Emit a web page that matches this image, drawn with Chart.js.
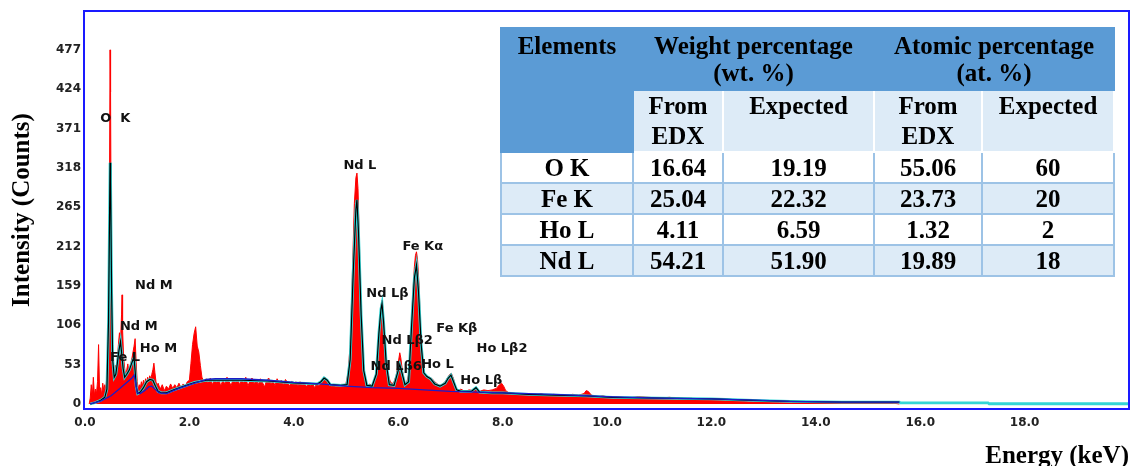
<!DOCTYPE html>
<html>
<head>
<meta charset="utf-8">
<script src="https://cdn.jsdelivr.net/npm/chart.js@4.4.1/dist/chart.umd.min.js"></script>
<style>
  html, body { margin: 0; padding: 0; background: #fff; }
  #wrap { position: relative; width: 1136px; height: 466px; overflow: hidden; }
  #edx { position: absolute; left: 0; top: 0; }
  #composition {
    position: absolute; left: 500px; top: 27px; width: 613px;
    border-collapse: collapse; table-layout: fixed;
    font: bold 25px "Liberation Serif", "Times New Roman", serif; color: #000;
  }
  #composition td { padding: 0; text-align: center; border: 2px solid #9dc3e6; line-height: 28px; }
  #composition tr.head1 td { background: #5b9bd5; border-color: #5b9bd5; height: 60px; line-height: 27px; }
  #composition td.elem { vertical-align: top; padding-top: 3px; }
  #composition tr.head2 td { background: #ddebf7; border-color: #fff; height: 58px; line-height: 30px; }
  #composition tr.head2 td.top { vertical-align: top; }
  #composition tr.head2 { border-bottom: 2px solid #9dc3e6; }
  #composition tr.row td { height: 29px; background: #fff; }
  #composition tr.row.alt td { background: #ddebf7; }
</style>
</head>
<body>
<div id="wrap">
  <canvas id="edx" width="1136" height="466"></canvas>
  <table id="composition">
    <colgroup><col style="width:132px"><col style="width:90px"><col style="width:151px"><col style="width:108px"><col style="width:132px"></colgroup>
    <tr class="head1">
      <td class="elem" rowspan="2" style="background:#5b9bd5;border-color:#5b9bd5">Elements</td>
      <td colspan="2">Weight percentage<br>(wt. %)</td>
      <td colspan="2">Atomic percentage<br>(at. %)</td>
    </tr>
    <tr class="head2">
      <td>From<br>EDX</td><td class="top">Expected</td><td>From<br>EDX</td><td class="top">Expected</td>
    </tr>
    <tbody id="compRows"></tbody>
  </table>
</div>
<script>
// axis ticks
const xTickValues = [0, 2, 4, 6, 8, 10, 12, 14, 16, 18];
const yTickValues = [0, 53, 106, 159, 212, 265, 318, 371, 424, 477];

// measured spectrum (keV, counts)
const spectrumEnergy = [
  0.08, 0.10, 0.12, 0.14, 0.16, 0.18, 0.20, 0.22, 0.24, 0.26,
  0.28, 0.30, 0.32, 0.34, 0.36, 0.38, 0.40, 0.42, 0.44, 0.46,
  0.47, 0.48, 0.49, 0.50, 0.52, 0.54, 0.56, 0.58, 0.60, 0.62,
  0.64, 0.66, 0.68, 0.70, 0.71, 0.72, 0.74, 0.76, 0.78, 0.80,
  0.82, 0.84, 0.86, 0.88, 0.90, 0.92, 0.94, 0.96, 0.98, 1.00,
  1.02, 1.04, 1.06, 1.08, 1.10, 1.12, 1.14, 1.16, 1.18, 1.20,
  1.22, 1.24, 1.26, 1.28, 1.30, 1.32, 1.34, 1.36, 1.38, 1.40,
  1.44, 1.48, 1.52, 1.56, 1.60, 1.64, 1.68, 1.72, 1.76, 1.80,
  1.84, 1.88, 1.92, 1.96, 2.00, 2.03, 2.06, 2.09, 2.12, 2.15,
  2.18, 2.21, 2.24, 2.28, 2.32, 2.36, 2.40, 2.44, 2.48, 2.52,
  2.56, 2.60, 2.64, 2.68, 2.72, 2.76, 2.80, 2.84, 2.88, 2.92,
  2.96, 3.00, 3.04, 3.08, 3.12, 3.16, 3.20, 3.24, 3.28, 3.32,
  3.36, 3.40, 3.44, 3.48, 3.52, 3.56, 3.60, 3.64, 3.68, 3.72,
  3.76, 3.80, 3.84, 3.88, 3.92, 3.96, 4.00, 4.04, 4.08, 4.12,
  4.16, 4.20, 4.24, 4.28, 4.32, 4.36, 4.40, 4.44, 4.48, 4.52,
  4.56, 4.60, 4.64, 4.68, 4.72, 4.76, 4.80, 4.84, 4.88, 4.92,
  4.96, 5.00, 5.04, 5.08, 5.12, 5.16, 5.19, 5.21, 5.23, 5.26,
  5.29, 5.32, 5.35, 5.38, 5.42, 5.46, 5.50, 5.54, 5.58, 5.62,
  5.65, 5.67, 5.69, 5.71, 5.74, 5.77, 5.80, 5.84, 5.88, 5.92,
  5.96, 6.00, 6.03, 6.05, 6.08, 6.12, 6.16, 6.20, 6.24, 6.28,
  6.31, 6.33, 6.35, 6.37, 6.40, 6.43, 6.47, 6.51, 6.55, 6.60,
  6.65, 6.70, 6.75, 6.80, 6.85, 6.90, 6.95, 6.99, 7.02, 7.06,
  7.10, 7.15, 7.20, 7.28, 7.36, 7.44, 7.50, 7.56, 7.64, 7.72,
  7.80, 7.88, 7.94, 7.98, 8.02, 8.06, 8.12, 8.20, 8.30, 8.40,
  8.50, 8.62, 8.74, 8.86, 8.98, 9.10, 9.22, 9.34, 9.46, 9.56,
  9.60, 9.64, 9.70, 9.80, 9.92, 10.04, 10.2, 10.4, 10.6, 10.8,
  11.0, 11.2, 11.4, 11.6, 11.8, 12.0, 12.2, 12.4, 12.6, 12.7,
  13.0, 13.3, 13.6, 13.9, 14.2, 14.5, 14.8, 15.1, 15.4, 15.6
];
const spectrumCounts = [
  0, 8, 26, 10, 36, 12, 20, 14, 30, 80,
  16, 22, 12, 28, 18, 26, 20, 40, 70, 140,
  300, 477, 420, 240, 90, 48, 38, 52, 44, 62,
  80, 96, 84, 120, 147, 100, 62, 48, 38, 46,
  54, 44, 50, 56, 62, 70, 78, 88, 56, 30,
  20, 26, 22, 30, 24, 32, 26, 34, 28, 36,
  30, 38, 34, 40, 46, 55, 42, 30, 24, 28,
  20, 26, 18, 24, 20, 27, 21, 26, 22, 28,
  22, 27, 24, 30, 32, 55, 80, 95, 104, 78,
  70, 52, 36, 30, 34, 28, 35, 26, 33, 29,
  35, 24, 32, 27, 36, 30, 25, 34, 29, 35,
  26, 33, 28, 36, 24, 31, 35, 27, 33, 26,
  34, 29, 23, 32, 35, 27, 31, 25, 34, 28,
  32, 26, 33, 29, 24, 31, 27, 30, 25, 30,
  26, 29, 23, 28, 25, 27, 22, 28, 25, 27,
  31, 36, 33, 27, 24, 27, 23, 26, 24, 27,
  24, 28, 42, 80, 170, 270, 305, 311, 290, 210,
  130, 70, 38, 28, 25, 27, 24, 29, 45, 85,
  115, 132, 140, 128, 95, 62, 42, 32, 27, 30,
  38, 55, 69, 62, 45, 30, 28, 40, 90, 150,
  185, 200, 205, 195, 160, 100, 55, 40, 38, 36,
  34, 30, 27, 25, 27, 30, 36, 40, 41, 34,
  22, 18, 20, 17, 19, 18, 21, 17, 19, 18,
  19, 21, 26, 28, 24, 18, 15, 13, 14, 12,
  13, 12, 14, 11, 13, 12, 11, 13, 12, 14,
  18, 17, 12, 10, 11, 9, 10, 8, 10, 9,
  8, 9, 7, 8, 7, 6, 7, 6, 5, 3,
  3, 2, 3, 2, 3, 2, 2, 3, 2, 0
];

// fitted spectrum
const fitEnergy = [
  0.10, 0.20, 0.30, 0.38, 0.42, 0.45, 0.47, 0.48, 0.49, 0.51,
  0.53, 0.56, 0.59, 0.62, 0.65, 0.68, 0.70, 0.73, 0.76, 0.80,
  0.85, 0.89, 0.92, 0.94, 0.96, 0.98, 1.01, 1.06, 1.12, 1.18,
  1.24, 1.30, 1.35, 1.40, 1.46, 1.56, 1.70, 1.90, 2.10, 2.33,
  2.60, 3.00, 3.50, 4.00, 4.45, 4.52, 4.58, 4.64, 4.70, 4.90,
  5.02, 5.08, 5.14, 5.19, 5.21, 5.24, 5.29, 5.34, 5.40, 5.50,
  5.58, 5.63, 5.67, 5.69, 5.72, 5.77, 5.83, 5.92, 5.98, 6.03,
  6.08, 6.13, 6.20, 6.26, 6.31, 6.35, 6.39, 6.44, 6.49, 6.55,
  6.62, 6.70, 6.80, 6.90, 6.96, 7.01, 7.06, 7.12, 7.20, 7.40,
  7.49, 7.56, 7.80, 8.00, 8.50, 9.00, 9.60, 10.1, 11.0, 12.0,
  12.8, 13.5, 14.5, 15.6
];
const fitCounts = [
  0, 2, 5, 9, 20, 110, 250, 325, 300, 150,
  60, 36, 40, 55, 72, 84, 70, 48, 36, 40,
  46, 54, 60, 62, 45, 24, 14, 16, 22, 30,
  33, 32, 24, 17, 15, 15, 19, 24, 29, 32,
  32, 32, 31, 28.5, 27, 30, 35, 32, 26, 25,
  26, 60, 180, 262, 275, 230, 120, 45, 25, 24,
  40, 95, 128, 135, 110, 55, 26, 25, 40, 53,
  40, 26, 30, 110, 170, 187, 150, 80, 42, 37,
  34, 27, 24, 28, 35, 39, 30, 19, 17, 17,
  22, 16, 15, 15, 13, 12, 11, 9, 8, 7,
  5, 3.5, 2.5, 2.5
];
// fit continues past the measured range
const fitTailEnergy = [15.62, 17.3, 17.32, 20];
const fitTailCounts = [1.4, 1.4, 0.3, 0.3];

// background (bremsstrahlung) estimate
const bgEnergy = [
  0.10, 0.30, 0.50, 0.65, 0.80, 0.90, 0.94, 0.97, 1.00, 1.06,
  1.14, 1.22, 1.28, 1.34, 1.42, 1.56, 1.80, 2.10, 2.33, 2.50,
  3.00, 3.50, 4.00, 4.50, 5.00, 5.50, 6.00, 6.50, 7.00, 7.50,
  8.00, 9.00, 10.0, 11.0, 12.0, 13.0, 13.5, 14.5, 15.6
];
const bgCounts = [
  0, 4, 11, 20, 29, 35, 39, 28, 15, 14,
  18, 23, 24, 20, 15, 14, 21, 28, 33, 34,
  34, 32, 29, 27, 24, 22, 21, 19, 17, 16,
  15, 13, 10, 8, 7, 5, 3.5, 2.5, 2.5
];

// peak identifications (text, left edge keV, counts)
const peakNames = ['O  K', 'Nd M', 'Nd M', 'Fe L', 'Ho M', 'Nd L', 'Fe K\u03b1', 'Nd L\u03b2',
  'Fe K\u03b2', 'Nd L\u03b22', 'Ho L\u03b22', 'Nd L\u03b26', 'Ho L', 'Ho L\u03b2'];
const peakKeV = [0.29, 0.96, 0.67, 0.48, 1.05, 4.95, 6.08, 5.39, 6.73, 5.68, 7.5, 5.47, 6.44, 7.19];
const peakCounts = [384, 160, 104, 63, 75, 321, 212, 148, 101, 85, 75, 50, 53, 31];

// composition table
const compElements = ['O K', 'Fe K', 'Ho L', 'Nd L'];
const wtEdx = ['16.64', '25.04', '4.11', '54.21'];
const wtExpected = ['19.19', '22.32', '6.59', '51.90'];
const atEdx = ['55.06', '23.73', '1.32', '19.89'];
const atExpected = ['60', '20', '2', '18'];

const tbody = document.getElementById('compRows');
compElements.forEach((el, i) => {
  const tr = document.createElement('tr');
  tr.className = i % 2 ? 'row alt' : 'row';
  [el, wtEdx[i], wtExpected[i], atEdx[i], atExpected[i]].forEach(txt => {
    const td = document.createElement('td');
    td.textContent = txt;
    tr.appendChild(td);
  });
  tbody.appendChild(tr);
});

const toPoints = (xs, ys) => xs.map((x, i) => ({ x: x, y: ys[i] }));

// blue box around the plot
const framePlugin = {
  id: 'frame',
  afterDatasetsDraw(chart) {
    const { ctx, chartArea: a } = chart;
    ctx.save();
    ctx.strokeStyle = '#1a1aff';
    ctx.lineWidth = 2;
    ctx.strokeRect(a.left - 1, a.top - 1, a.right - a.left + 1, a.bottom - a.top + 2);
    ctx.restore();
  }
};

// element line markers
const peakLabelPlugin = {
  id: 'peakLabels',
  afterDraw(chart) {
    const { ctx, scales: { x, y } } = chart;
    ctx.save();
    ctx.font = 'bold 13px "DejaVu Sans"';
    ctx.fillStyle = '#111';
    ctx.textAlign = 'left';
    ctx.textBaseline = 'middle';
    peakNames.forEach((name, i) => {
      ctx.fillText(name, x.getPixelForValue(peakKeV[i]), y.getPixelForValue(peakCounts[i]));
    });
    ctx.restore();
  }
};

const tickFont = { family: 'DejaVu Sans', size: 12, weight: 'bold' };

new Chart(document.getElementById('edx'), {
  type: 'line',
  data: {
    datasets: [
      {
        label: 'Background',
        data: toPoints(bgEnergy, bgCounts),
        borderColor: '#1c1cc8',
        borderWidth: 1.3,
        pointRadius: 0,
        fill: false
      },
      {
        label: 'Fit',
        data: toPoints(fitEnergy, fitCounts),
        borderColor: '#000',
        borderWidth: 1.2,
        pointRadius: 0,
        fill: false
      },
      {
        label: 'Fit outline',
        data: toPoints(fitEnergy.concat(fitTailEnergy), fitCounts.concat(fitTailCounts)),
        borderColor: '#33d6d6',
        borderWidth: 2.8,
        pointRadius: 0,
        fill: false
      },
      {
        label: 'Spectrum',
        data: toPoints(spectrumEnergy, spectrumCounts),
        borderColor: '#ff0000',
        backgroundColor: '#ff0000',
        borderWidth: 1,
        pointRadius: 0,
        fill: 'origin'
      }
    ]
  },
  options: {
    responsive: false,
    animation: false,
    layout: { padding: { top: 12, right: 7, left: 0, bottom: 0 } },
    plugins: {
      legend: { display: false },
      tooltip: { enabled: false }
    },
    scales: {
      x: {
        type: 'linear',
        min: 0,
        max: 20,
        grid: { display: false, drawTicks: false },
        border: { display: false },
        afterBuildTicks: (scale) => { scale.ticks = xTickValues.map(v => ({ value: v })); },
        afterFit: (scale) => { scale.height = 58; },
        ticks: {
          font: tickFont,
          color: '#222',
          padding: 8,
          maxRotation: 0,
          callback: (v) => v.toFixed(1)
        },
        title: {
          display: true,
          text: 'Energy (keV)',
          align: 'end',
          color: '#000',
          font: { family: 'Liberation Serif', size: 25, weight: 'bold' },
          padding: { top: 0, bottom: -6 }
        }
      },
      y: {
        min: -5.4,
        max: 528,
        grid: { display: false, drawTicks: false },
        border: { display: false },
        afterBuildTicks: (scale) => { scale.ticks = yTickValues.map(v => ({ value: v })); },
        afterFit: (scale) => { scale.width = 85; },
        ticks: {
          font: tickFont,
          color: '#222',
          padding: 4
        },
        title: {
          display: true,
          text: 'Intensity (Counts)',
          color: '#000',
          font: { family: 'Liberation Serif', size: 25, weight: 'bold' },
          padding: { top: 8, bottom: 0 }
        }
      }
    }
  },
  plugins: [framePlugin, peakLabelPlugin]
});
</script>
</body>
</html>
